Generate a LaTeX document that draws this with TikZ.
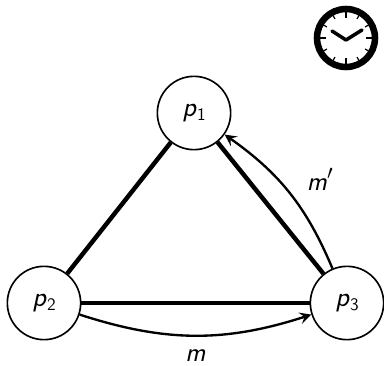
\documentclass[tikz,border=0pt]{standalone}
\usepackage{tikz}
\usetikzlibrary{arrows.meta,positioning}
\newcommand{\procname}[2]{\textsf{\textit{#1}}\raisebox{-0.16em}{\textsf{\fontsize{15}{15}\selectfont #2}}}
\tikzset{
  proc/.style={draw=black,fill=white,circle,line width=1.4pt,minimum size=2.2cm,inner sep=0pt,
    align=center,font=\fontsize{24}{24}\selectfont},
  link/.style={line width=3.8pt,black},
  msg/.style={-{Stealth[length=10pt,width=10pt,inset=4pt]},line width=2pt,black},
  msglabel/.style={font=\fontsize{23}{23}\selectfont,inner sep=0pt},
  clockhand/.style={line width=3pt,line cap=round,black},
  clocktick/.style={line width=1pt,black}
}
\begin{document}
\begin{tikzpicture}[x=0.03cm,y=-0.03cm]
  \useasboundingbox (0,0) rectangle (384,366);
  % the three processes
  \node[proc] (p1) at (194,113) {\procname{p}{1}};
  \node[proc] (p2) at (44,303) {\procname{p}{2}};
  \node[proc] (p3) at (347,303) {\procname{p}{3}};

  % links between them
  \draw[link] (p1) -- (p2);
  \draw[link] (p1) -- (p3);
  \draw[link] (p2) -- (p3);

  % messages
  \draw[msg] (p2) to[bend right=18] node[below=11pt,msglabel] (m) {\textsf{\textit{m}}} (p3);
  \draw[msg] (p3) to[bend right=16] node[above right=1pt and 14pt,msglabel] (mprime) {\textsf{\textit{m}}$'$} (p1);

  % clock in the corner
  \node[draw=black,circle,line width=5.6pt,minimum size=1.74cm,inner sep=0pt] (clock) at (346,38) {};
  \coordinate (hub) at (346,40);
  \foreach \a in {0,30,...,330}
    \draw[clocktick] (clock.center) ++(\a:26) -- ++(\a:-4);
  \foreach \a in {0,90,180,270}
    \draw[line width=1.6pt] (clock.center) ++(\a:26) -- ++(\a:-6);
  \draw[clockhand] (hub) -- ++(16,-10);
  \draw[clockhand] (hub) -- ++(-14,-9);
\end{tikzpicture}
\end{document}
